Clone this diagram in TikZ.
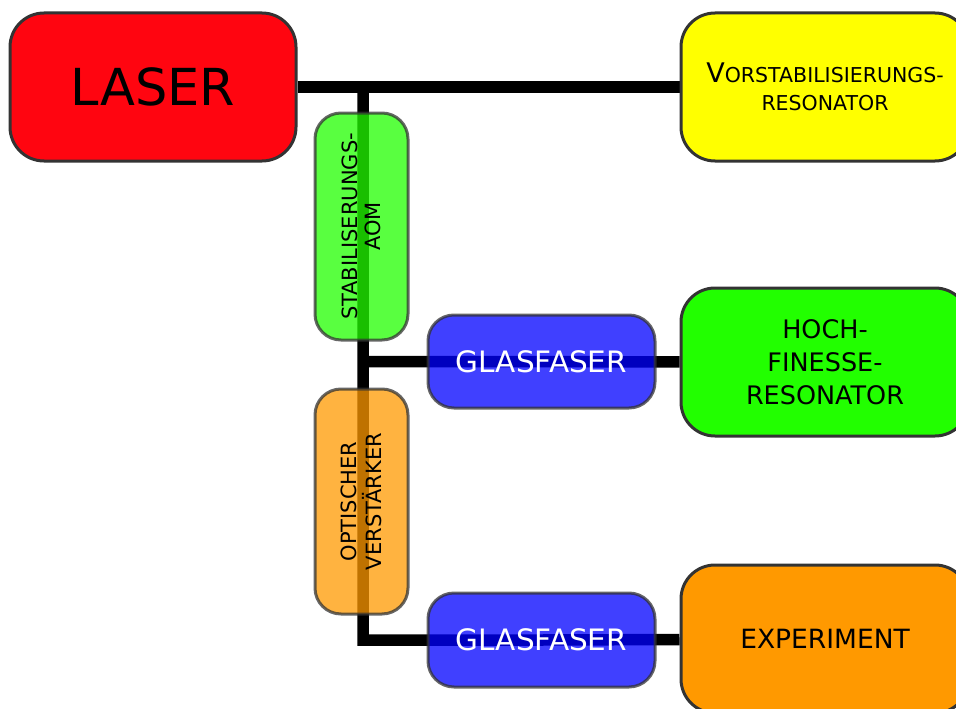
\documentclass[tikz,border=0pt]{standalone}
\usepackage{fontspec}
\setmainfont{DejaVu Sans}
\usetikzlibrary{positioning,backgrounds}

\definecolor{laserred}{HTML}{FF0510}
\definecolor{resyellow}{HTML}{FFFF00}
\definecolor{resgreen}{HTML}{22FF00}
\definecolor{aomgreen}{HTML}{22FF00}
\definecolor{amporange}{HTML}{FF9900}
\definecolor{exporange}{HTML}{FF9900}
\definecolor{fiberblue}{HTML}{0000FF}
\definecolor{rimgray}{HTML}{333333}

\tikzset{
  bigbox/.style={rectangle, rounded corners=34pt, draw=rimgray, line width=3pt,
    minimum width=286pt, minimum height=148pt, align=center},
  seebox/.style={rectangle, rounded corners=26pt, draw=rimgray, line width=3pt,
    fill opacity=0.75, draw opacity=0.75, text opacity=1, align=center,
    minimum width=227pt, minimum height=93pt},
  conn/.style={line width=11.5pt, black}
}

\begin{document}
\begin{tikzpicture}[x=1pt, y=-1pt]
\clip (0,0) rectangle (956,709);
\useasboundingbox (0,0) rectangle (956,709);

\node[bigbox, fill=laserred, font={\fontsize{51}{61}\selectfont}] (laser) at (153,87)
    {LASER};
\node[bigbox, fill=resyellow, minimum width=288pt, font={\fontsize{20.5}{28}\selectfont}] (vorst) at (825,87)
    {{\fontsize{27}{28}\selectfont V}ORSTABILISIERUNGS-\\RESONATOR};
\node[seebox, fill=aomgreen, rotate=90, font={\fontsize{21}{23}\selectfont}] (aom) at (361.5,226.5)
    {STABILISERUNGS-\\AOM};
\node[seebox, fill=fiberblue, text=white, font={\fontsize{29.5}{34}\selectfont}] (glas1) at (541.5,361.5)
    {GLASFASER};
\node[bigbox, fill=resgreen, minimum width=288pt, font={\fontsize{25.5}{33}\selectfont}] (hoch) at (825,362)
    {HOCH-\\FINESSE-\\RESONATOR};
\node[seebox, fill=amporange, rotate=90, minimum width=225pt, font={\fontsize{21}{25}\selectfont}] (verst) at (361.5,501.5)
    {OPTISCHER\\VERSTÄRKER};
\node[seebox, fill=fiberblue, text=white, minimum height=94pt, font={\fontsize{29.5}{34}\selectfont}] (glas2) at (541.5,640)
    {GLASFASER};
\node[bigbox, fill=exporange, minimum width=288pt, font={\fontsize{26.5}{30}\selectfont}] (exp) at (825,639)
    {EXPERIMENT};

% beams under the see-through boxes
\begin{scope}[on background layer]
  \coordinate (split) at (363,87);
  \draw[conn] (laser) -- (vorst);
  \draw[conn] (split) |- (glas2.center) -- (exp);
  \draw[conn] (split |- glas1) -- (hoch);
\end{scope}
\end{tikzpicture}
\end{document}
